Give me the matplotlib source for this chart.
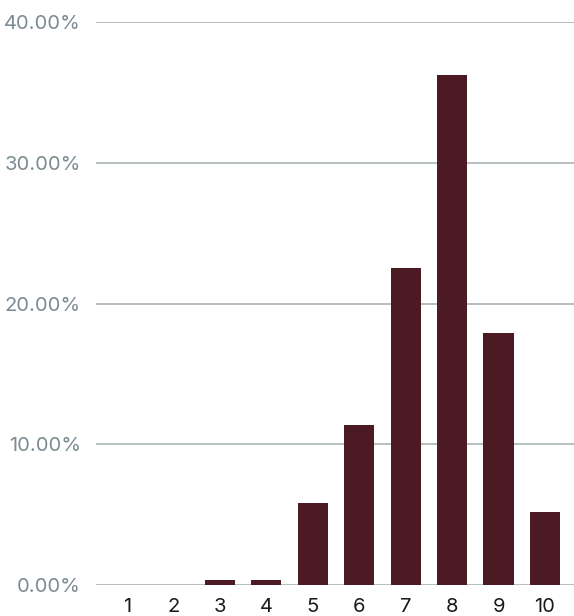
import matplotlib.pyplot as plt

scores = [1, 2, 3, 4, 5, 6, 7, 8, 9, 10]
shares = [0.0, 0.0, 0.36, 0.36, 5.83, 11.37, 22.5, 36.25, 17.9, 5.19]
y_ticks = [0, 10, 20, 30, 40]
y_labels = ["0.00%", "10.00%", "20.00%", "30.00%", "40.00%"]

plt.rcParams["font.family"] = ["Inter", "DejaVu Sans"]

fig = plt.figure(figsize=(5.74, 6.16), dpi=100)
ax = fig.add_axes([96 / 574, 31 / 616, 1 - 96 / 574, (585 - 22.3) / 616])

ax.bar(scores, shares, width=0.65, color="#4b1a22", zorder=3)

ax.set_xlim(0.33, 10.625)
ax.set_ylim(0, 40)
ax.set_yticks(y_ticks)
ax.set_yticklabels(y_labels)
ax.set_xticks(scores)
ax.set_xticklabels([str(s) for s in scores])

ax.grid(axis="y", color="#a9b4b6", linewidth=1.2, zorder=0)
ax.set_axisbelow(True)
for spine in ax.spines.values():
    spine.set_visible(False)

ax.tick_params(axis="y", length=0, pad=10.8, labelsize=14.5, labelcolor="#7b8b91")
ax.tick_params(axis="x", length=0, pad=9.5, labelsize=14.5, labelcolor="#1a1a1a")

fig.savefig("out.png", dpi=100)
